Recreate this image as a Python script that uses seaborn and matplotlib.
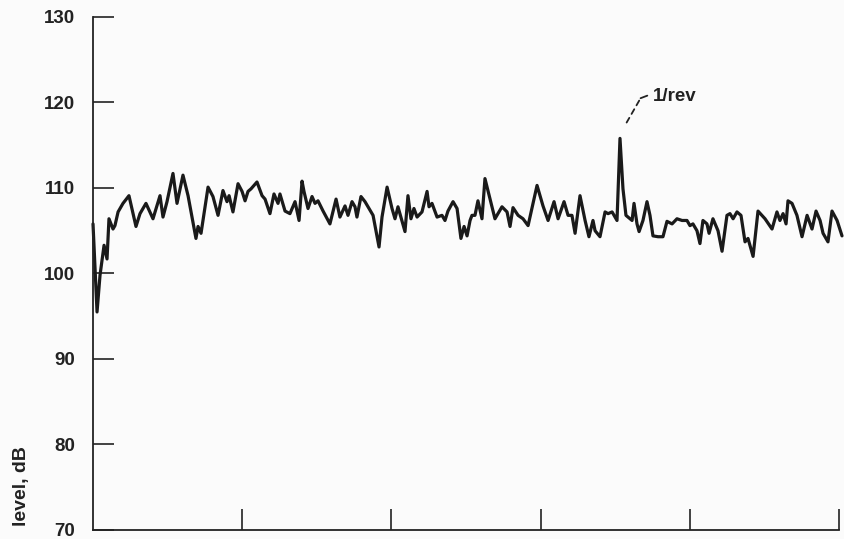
"""
Спектр уровня шума: уровень, дБ, с пиком 1/rev.
"""

import matplotlib
matplotlib.use('Agg')
import matplotlib.pyplot as plt
import seaborn as sns
import pandas as pd

# частота (усл. ед., 0..5) и уровень, дБ
freq = [
    0.000, 0.027, 0.047, 0.074, 0.094, 0.107, 0.134, 0.147, 0.168, 0.201,
    0.241, 0.288, 0.315, 0.355, 0.402, 0.449, 0.469, 0.496, 0.536, 0.563,
    0.603, 0.637, 0.690, 0.704, 0.724, 0.771, 0.804, 0.838, 0.871, 0.898,
    0.912, 0.938, 0.972, 0.999, 1.019, 1.039, 1.059, 1.099, 1.133, 1.153,
    1.186, 1.213, 1.240, 1.253, 1.287, 1.320, 1.354, 1.381, 1.401, 1.414,
    1.441, 1.468, 1.488, 1.508, 1.542, 1.588, 1.629, 1.655, 1.689, 1.709,
    1.736, 1.756, 1.769, 1.796, 1.823, 1.877, 1.917, 1.937, 1.971, 2.004,
    2.024, 2.044, 2.091, 2.111, 2.131, 2.151, 2.172, 2.205, 2.239, 2.252,
    2.272, 2.306, 2.339, 2.359, 2.379, 2.413, 2.440, 2.466, 2.487, 2.507,
    2.527, 2.540, 2.560, 2.580, 2.607, 2.627, 2.661, 2.694, 2.741, 2.775,
    2.795, 2.815, 2.849, 2.882, 2.916, 2.976, 3.016, 3.050, 3.090, 3.117,
    3.157, 3.184, 3.210, 3.231, 3.264, 3.298, 3.324, 3.351, 3.365, 3.398,
    3.432, 3.452, 3.479, 3.512, 3.532, 3.552, 3.572, 3.613, 3.626, 3.646,
    3.660, 3.686, 3.713, 3.733, 3.753, 3.787, 3.820, 3.847, 3.881, 3.914,
    3.948, 3.981, 4.001, 4.021, 4.048, 4.068, 4.088, 4.115, 4.129, 4.155,
    4.189, 4.216, 4.249, 4.269, 4.290, 4.316, 4.343, 4.370, 4.390, 4.424,
    4.457, 4.504, 4.551, 4.584, 4.604, 4.625, 4.645, 4.658, 4.685, 4.718,
    4.752, 4.786, 4.819, 4.846, 4.873, 4.893, 4.926, 4.953, 4.987, 5.020,
]
level = [
    105.8, 95.5, 99.8, 103.3, 101.7, 106.4, 105.2, 105.6, 107.2, 108.2,
    109.1, 105.5, 107.0, 108.2, 106.4, 109.1, 106.6, 108.4, 111.7, 108.2,
    111.5, 109.1, 104.1, 105.5, 104.7, 110.1, 109.0, 106.8, 109.7, 108.4,
    109.1, 107.2, 110.5, 109.6, 108.5, 109.6, 109.9, 110.7, 109.1, 108.7,
    107.0, 109.3, 108.2, 109.3, 107.3, 107.0, 108.4, 106.2, 110.8, 109.6,
    107.6, 109.0, 108.2, 108.5, 107.3, 105.8, 108.7, 106.6, 107.9, 106.8,
    108.4, 107.8, 106.6, 109.0, 108.4, 106.8, 103.1, 106.6, 110.1, 107.6,
    106.4, 107.8, 104.9, 109.1, 106.4, 107.6, 106.6, 107.2, 109.6, 107.8,
    108.2, 106.6, 106.8, 106.2, 107.3, 108.4, 107.6, 104.1, 105.5, 104.4,
    106.2, 106.8, 106.8, 108.5, 106.4, 111.1, 108.7, 106.4, 107.8, 107.2,
    105.5, 107.7, 106.8, 106.4, 105.6, 110.3, 107.9, 106.2, 108.4, 106.4,
    108.4, 106.8, 106.8, 104.7, 109.1, 106.2, 104.3, 106.2, 105.0, 104.3,
    107.2, 107.0, 107.2, 106.2, 115.8, 109.9, 106.8, 106.2, 108.2, 105.8,
    104.9, 106.2, 108.4, 106.8, 104.4, 104.3, 104.3, 106.1, 105.8, 106.4,
    106.2, 106.2, 105.6, 105.8, 105.0, 103.5, 106.2, 105.8, 104.7, 106.4,
    105.0, 102.6, 106.8, 107.0, 106.4, 107.2, 106.8, 103.7, 104.1, 102.0,
    107.3, 106.4, 105.2, 107.2, 106.2, 107.0, 105.8, 108.5, 108.2, 106.8,
    104.3, 106.8, 105.2, 107.3, 106.2, 104.7, 103.7, 107.3, 106.2, 104.4,
]
y_ticks = [70, 80, 90, 100, 110, 120, 130]
x_ticks = [1, 2, 3, 4, 5]

df = pd.DataFrame({'freq': freq, 'level': level})

sns.set_style('ticks')
plt.rcParams['font.family'] = ['Liberation Sans', 'DejaVu Sans']

fig = plt.figure(figsize=(8.44, 5.39), dpi=100, facecolor='#fbfbfb')
# оси: от x=93 до 839 px, от y=530 до 17 px
ax = fig.add_axes([0.1102, 0.0167, 0.8839, 0.9518])
ax.set_facecolor('#fbfbfb')

sns.lineplot(data=df, x='freq', y='level', ax=ax, color='#1a1a1a',
             linewidth=2.3, clip_on=False, sort=False)

ax.set_xlim(0, 5)
ax.set_ylim(70, 130)
ax.set_xticks(x_ticks)
ax.set_xticklabels([])
ax.set_yticks(y_ticks)
ax.set_yticklabels([str(v) for v in y_ticks], fontsize=13.5,
                   fontweight='bold', color='#222222')
ax.tick_params(axis='both', direction='in', length=15, width=1.2,
               color='#222222')
ax.tick_params(axis='y', pad=13)
ax.set_xlabel('')
ax.set_ylabel('')
sns.despine(ax=ax)
for side in ['left', 'bottom']:
    ax.spines[side].set_linewidth(1.3)
    ax.spines[side].set_color('#222222')

# подпись пика 1/rev
ax.annotate('', xy=(3.555, 117.0), xytext=(3.67, 120.5),
            arrowprops=dict(arrowstyle='-', linestyle=(0, (3, 2.5)),
                            color='#222222', lw=1.3))
ax.plot([3.67, 3.715], [120.5, 120.8], color='#222222', lw=1.3)
ax.text(3.755, 120.7, '1/rev', fontsize=13.5, fontweight='bold',
        color='#222222', va='center', ha='left')

fig.text(0.025, 0.098, 'level, dB', rotation=90, fontsize=14,
         fontweight='bold', color='#222222', ha='center', va='center')

fig.savefig('out.png', dpi=100, facecolor=fig.get_facecolor())
plt.close(fig)
